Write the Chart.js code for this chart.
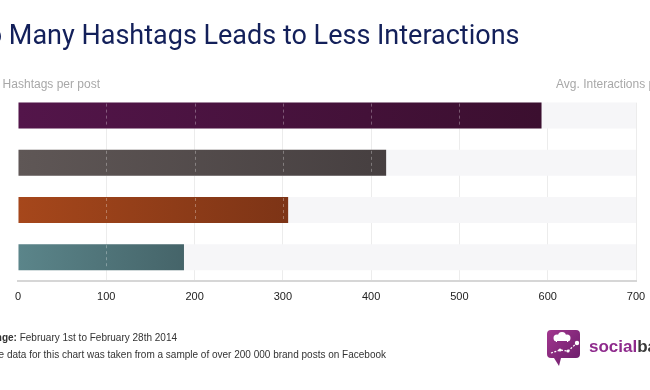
<!DOCTYPE html>
<html>
<head>
<meta charset="utf-8">
<script src="https://cdn.jsdelivr.net/npm/chart.js@4"></script>
<style>
  html,body{margin:0;padding:0;background:#fff;}
  #wrap{position:relative;width:650px;height:390px;overflow:hidden;}
  canvas{display:block;}
</style>
</head>
<body>
<div id="wrap"><canvas id="c" width="650" height="390"></canvas></div>
<script>
// ---- data ----
const categories = ["1-2 hashtags", "3-5 hashtags", "6-10 hashtags", "11+ hashtags"];
const interactions = [593, 417, 306, 188];
const trackMax = [700, 700, 700, 700];
const xTicks = [0, 100, 200, 300, 400, 500, 600, 700];
const barColorsStart = ["#53154a", "#5f5756", "#a6471b", "#5b858a"];
const barColorsEnd = ["#3b0f2f", "#463f40", "#7d3416", "#456469"];

const titleText = "Too Many Hashtags Leads to Less Interactions";
const leftHeader = "# of Hashtags per post";
const rightHeader = "Avg. Interactions per post";
const note1Bold = "Date range:";
const note1Text = " February 1st to February 28th 2014";
const note2Bold = "Note:";
const note2Text = " The data for this chart was taken from a sample of over 200 000 brand posts on Facebook";

const coverPlugin = {
  id: 'cover',
  beforeDatasetsDraw(chart) {
    const meta = chart.getDatasetMeta(0);
    const el = meta.data[0];
    if (!el) return;
    const ctx = chart.ctx;
    const top = el.y - el.height / 2;
    ctx.save();
    ctx.fillStyle = '#fff';
    ctx.fillRect(chart.chartArea.left - 2, chart.chartArea.top - 2, chart.chartArea.width + 4, top - chart.chartArea.top + 2);
    ctx.restore();
  }
};

const dashPlugin = {
  id: 'dashes',
  afterDatasetsDraw(chart) {
    const meta = chart.getDatasetMeta(1);
    const xs = chart.scales.x;
    const ctx = chart.ctx;
    ctx.save();
    ctx.strokeStyle = 'rgba(255,255,255,0.3)';
    ctx.lineWidth = 1;
    ctx.setLineDash([3, 3]);
    meta.data.forEach((el) => {
      const t = el.y - el.height / 2, b = el.y + el.height / 2;
      xTicks.forEach(v => {
        if (v === 0) return;
        const px = Math.round(xs.getPixelForValue(v)) + 0.5;
        if (px < el.x - 2) {
          ctx.beginPath();
          ctx.moveTo(px, t + 1);
          ctx.lineTo(px, b - 1);
          ctx.stroke();
        }
      });
    });
    ctx.restore();
  }
};

const textPlugin = {
  id: 'texts',
  afterDraw(chart) {
    const ctx = chart.ctx;
    ctx.save();
    ctx.textBaseline = 'alphabetic';
    // title
    ctx.font = '400 27px Roboto';
    ctx.fillStyle = '#13205a';
    ctx.textAlign = 'right';
    ctx.fillText(titleText, 519.5, 43.5);
    // headers
    ctx.font = '12px "Liberation Sans", Arial, sans-serif';
    ctx.fillStyle = '#a8a8a8';
    ctx.textAlign = 'right';
    ctx.fillText(leftHeader, 100, 88);
    ctx.textAlign = 'left';
    ctx.fillText(rightHeader, 556, 88);
    // footer notes (right edge anchored)
    const drawNote = (bold, text, rightX, y) => {
      ctx.font = 'bold 10px "Liberation Sans", Arial, sans-serif';
      const wb = ctx.measureText(bold).width;
      ctx.font = '10px "Liberation Sans", Arial, sans-serif';
      const wt = ctx.measureText(text).width;
      const x0 = rightX - wb - wt;
      ctx.textAlign = 'left';
      ctx.fillStyle = '#333';
      ctx.font = 'bold 10px "Liberation Sans", Arial, sans-serif';
      ctx.fillText(bold, x0, y);
      ctx.font = '10px "Liberation Sans", Arial, sans-serif';
      ctx.fillText(text, x0 + wb, y);
    };
    drawNote(note1Bold, note1Text, 177, 341);
    drawNote(note2Bold, note2Text, 386, 358);

    // logo icon
    const g = ctx.createLinearGradient(547, 330, 580, 360);
    g.addColorStop(0, '#a2378f');
    g.addColorStop(1, '#6d1d6b');
    ctx.fillStyle = g;
    const rx = 547, ry = 330, rw = 33, rh = 28, r = 4;
    ctx.beginPath();
    ctx.moveTo(rx + r, ry);
    ctx.lineTo(rx + rw - r, ry);
    ctx.quadraticCurveTo(rx + rw, ry, rx + rw, ry + r);
    ctx.lineTo(rx + rw, ry + rh - r);
    ctx.quadraticCurveTo(rx + rw, ry + rh, rx + rw - r, ry + rh);
    ctx.lineTo(rx + 14, ry + rh);
    ctx.lineTo(rx + 12, ry + rh + 8);
    ctx.lineTo(rx + 7, ry + rh);
    ctx.lineTo(rx + r, ry + rh);
    ctx.quadraticCurveTo(rx, ry + rh, rx, ry + rh - r);
    ctx.lineTo(rx, ry + r);
    ctx.quadraticCurveTo(rx, ry, rx + r, ry);
    ctx.closePath();
    ctx.fill();
    // chef hat
    ctx.fillStyle = '#fff';
    ctx.beginPath();
    ctx.arc(557, 338, 3.5, 0, Math.PI * 2);
    ctx.arc(562, 336, 4, 0, Math.PI * 2);
    ctx.arc(567, 338, 3.5, 0, Math.PI * 2);
    ctx.fill();
    ctx.fillRect(556, 338, 12, 4);
    ctx.fillStyle = '#8a2a80';
    ctx.fillRect(557, 341, 10, 1);
    // line graph
    ctx.strokeStyle = '#fff';
    ctx.lineWidth = 1.3;
    ctx.setLineDash([2, 1.5]);
    ctx.beginPath();
    ctx.moveTo(551, 353);
    ctx.lineTo(560, 350);
    ctx.lineTo(568, 351);
    ctx.lineTo(577, 343);
    ctx.stroke();
    ctx.setLineDash([]);
    ctx.fillStyle = '#fff';
    [[560, 350], [568, 351]].forEach(p => { ctx.beginPath(); ctx.arc(p[0], p[1], 1.6, 0, Math.PI * 2); ctx.fill(); });
    ctx.beginPath(); ctx.arc(577, 343, 2.2, 0, Math.PI * 2); ctx.fill();
    // logo text
    ctx.font = 'bold 17px "Liberation Sans", Arial, sans-serif';
    ctx.textAlign = 'left';
    ctx.fillStyle = '#8e2a8c';
    ctx.fillText('social', 589, 352);
    const ws = ctx.measureText('social').width;
    ctx.fillStyle = '#3a3a3a';
    ctx.fillText('bakers', 589 + ws, 352);
    ctx.restore();
  }
};

const ctxEl = document.getElementById('c');
new Chart(ctxEl, {
  type: 'bar',
  data: {
    labels: categories,
    datasets: [
      {
        label: 'track',
        data: trackMax,
        backgroundColor: '#f6f6f8',
        borderWidth: 0,
        grouped: false,
        order: 2,
        barPercentage: 0.55,
        categoryPercentage: 1.0
      },
      {
        label: 'Avg. Interactions per post',
        data: interactions,
        backgroundColor: (c) => {
          const chart = c.chart;
          const i = c.dataIndex;
          if (!chart.chartArea || i === undefined) return barColorsStart[i || 0];
          const xs = chart.scales.x;
          const x0 = xs.getPixelForValue(0);
          const x1 = xs.getPixelForValue(interactions[i]);
          const g = chart.ctx.createLinearGradient(x0, 0, x1, 0);
          g.addColorStop(0, barColorsStart[i]);
          g.addColorStop(1, barColorsEnd[i]);
          return g;
        },
        borderWidth: 0,
        grouped: false,
        order: 1,
        barPercentage: 0.55,
        categoryPercentage: 1.0
      }
    ]
  },
  options: {
    indexAxis: 'y',
    responsive: false,
    animation: false,
    events: [],
    layout: { padding: { left: 18, right: 14, top: 92, bottom: 76 } },
    plugins: { legend: { display: false }, tooltip: { enabled: false }, title: { display: false } },
    scales: {
      x: {
        type: 'linear',
        min: 0,
        max: 700,
        afterBuildTicks: (axis) => { axis.ticks = xTicks.map(v => ({ value: v })); },
        afterFit: (axis) => { axis.paddingRight = 0; axis.paddingLeft = 0; },
        ticks: {
          color: '#222',
          font: { family: '"Liberation Sans", Arial, sans-serif', size: 11 },
          padding: 10
        },
        grid: {
          color: (c) => (c.tick && c.tick.value === 0) ? 'rgba(0,0,0,0)' : '#ececec',
          lineWidth: 1,
          drawTicks: false
        },
        border: { color: '#d6d6d6', width: 2 }
      },
      y: {
        type: 'category',
        display: false
      }
    }
  },
  plugins: [coverPlugin, dashPlugin, textPlugin]
});
</script>
</body>
</html>
